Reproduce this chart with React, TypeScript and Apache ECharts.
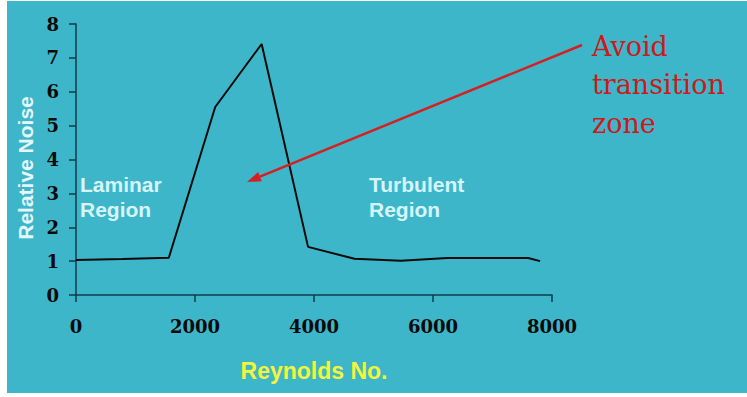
import React, { useEffect, useRef } from "react";
import * as echarts from "echarts";

const reynolds = [0, 780, 1560, 2340, 3120, 3900, 4680, 5460, 6240, 7020, 7600, 7800];
const noise = [1.03, 1.06, 1.1, 5.55, 7.41, 1.42, 1.07, 1.01, 1.09, 1.09, 1.09, 1.0];
const xTicks = { min: 0, max: 8000, interval: 2000 };
const yTicks = { min: 0, max: 8, interval: 1 };
const xTitle = "Reynolds No.";
const yTitle = "Relative Noise";
const laminarLabel = "Laminar\nRegion";
const turbulentLabel = "Turbulent\nRegion";
const avoidLabel = "Avoid\ntransition\nzone";

const TEAL = "#3eb6c9";
const AXIS = "#113d49";

export default function App() {
  const ref = useRef<HTMLDivElement>(null);
  useEffect(() => {
    if (!ref.current) return;
    const chart = echarts.init(ref.current, undefined, { renderer: "svg" });
    const start = [575, 44];
    const tip = [240, 181];
    const dx = tip[0] - start[0];
    const dy = tip[1] - start[1];
    const len = Math.sqrt(dx * dx + dy * dy);
    const ux = dx / len, uy = dy / len;
    const hl = 14, hw = 5;
    const bx = tip[0] - ux * hl, by = tip[1] - uy * hl;
    const px = -uy * hw, py = ux * hw;
    chart.setOption({
      animation: false,
      backgroundColor: TEAL,
      grid: { left: 69, top: 23, right: 195, bottom: 98, containLabel: false },
      xAxis: {
        type: "value",
        min: xTicks.min,
        max: xTicks.max,
        interval: xTicks.interval,
        name: xTitle,
        nameLocation: "middle",
        nameGap: 64,
        nameTextStyle: { color: "#f4f43c", fontFamily: "Liberation Sans, Arial", fontWeight: "bold", fontSize: 23 },
        axisLine: { lineStyle: { color: AXIS, width: 1.5 } },
        axisTick: { show: true, length: 7, lineStyle: { color: AXIS, width: 1.5 } },
        splitLine: { show: false },
        axisLabel: {
          color: "#0a0a0a",
          fontFamily: "DejaVu Serif",
          fontWeight: "bold",
          fontSize: 18,
          margin: 22,
          formatter: (v: number) => String(v),
        },
      },
      yAxis: {
        type: "value",
        min: yTicks.min,
        max: yTicks.max,
        interval: yTicks.interval,
        axisLine: { show: true, lineStyle: { color: AXIS, width: 1.5 } },
        axisTick: { show: true, length: 7, lineStyle: { color: AXIS, width: 1.5 } },
        splitLine: { show: false },
        axisLabel: {
          color: "#0a0a0a",
          fontFamily: "DejaVu Serif",
          fontWeight: "bold",
          fontSize: 18,
          margin: 17,
          formatter: (v: number) => String(v),
        },
      },
      series: [
        {
          type: "line",
          data: reynolds.map((x, i) => [x, noise[i]]),
          showSymbol: false,
          symbol: "none",
          lineStyle: { color: "#0a0a0a", width: 2 },
          z: 3,
        },
      ],
      graphic: [
        {
          type: "text",
          x: 18.5,
          y: 167,
          rotation: Math.PI / 2,
          style: {
            text: yTitle,
            fill: "#e6f7fb",
            font: "bold 21px 'Liberation Sans', Arial",
            align: "center",
            verticalAlign: "middle",
          },
        },
        {
          type: "text",
          left: 73,
          top: 171,
          style: {
            text: laminarLabel,
            fill: "#d6f5fb",
            font: "bold 21px 'Liberation Sans', Arial",
            lineHeight: 25,
          },
        },
        {
          type: "text",
          left: 362,
          top: 171,
          style: {
            text: turbulentLabel,
            fill: "#d6f5fb",
            font: "bold 21px 'Liberation Sans', Arial",
            lineHeight: 25,
          },
        },
        {
          type: "text",
          left: 585,
          top: 26,
          style: {
            text: avoidLabel,
            fill: "#cc1a1a",
            font: "27px 'DejaVu Serif'",
            lineHeight: 38.5,
          },
        },
        {
          type: "line",
          shape: { x1: start[0], y1: start[1], x2: bx, y2: by },
          style: { stroke: "#d42020", lineWidth: 2.5 },
          z: 10,
        },
        {
          type: "polygon",
          shape: { points: [tip, [bx + px, by + py], [bx - px, by - py]] },
          style: { fill: "#d42020" },
          z: 10,
        },
      ],
    });
    return () => chart.dispose();
  }, []);
  return (
    <div style={{ position: "fixed", left: 0, top: 0, width: 747, height: 397, background: "#ffffff" }}>
      <div ref={ref} style={{ position: "absolute", left: 7, top: 1, width: 740, height: 392 }} />
    </div>
  );
}
